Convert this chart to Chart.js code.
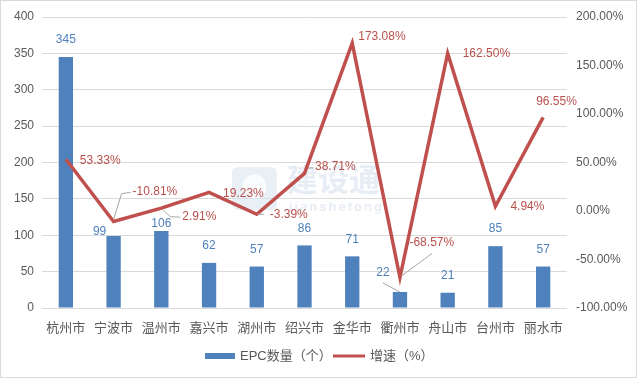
<!DOCTYPE html>
<html>
<head>
<meta charset="utf-8">
<script src="https://cdn.jsdelivr.net/npm/chart.js@4.4.1/dist/chart.umd.min.js"></script>
<style>
  html, body { margin: 0; padding: 0; background: #ffffff; }
  #wrap { width: 640px; height: 381px; position: relative; }
</style>
</head>
<body>
<div id="wrap"><canvas id="c"></canvas></div>
<script>
// ---- data ----
const categories = ['杭州市', '宁波市', '温州市', '嘉兴市', '湖州市', '绍兴市', '金华市', '衢州市', '舟山市', '台州市', '丽水市'];
const epcCounts = [345, 99, 106, 62, 57, 86, 71, 22, 21, 85, 57];
const growthRates = [53.33, -10.81, 2.91, 19.23, -3.39, 38.71, 173.08, -68.57, 162.50, 4.94, 96.55];
const seriesNames = ['EPC数量（个）', '增速（%）'];
const leftAxisRange = { min: 0, max: 400, step: 50 };
const rightAxisRange = { min: -100, max: 200, step: 50 };
const watermarkText = ['建设通', 'jianshetong'];

// ---- label placement (relative offsets to library-computed marks) ----
const barLabelOffsets = [
  { dx: 0, dy: -17 }, { dx: -14, dy: -4 }, { dx: 0, dy: -7.5 }, { dx: 0, dy: -17 },
  { dx: 0, dy: -17 }, { dx: 0, dy: -17 }, { dx: 0, dy: -17 },
  { dx: -17, dy: -19, leader: [[-17, -9], [0, 0]] },
  { dx: 0, dy: -17 }, { dx: 0, dy: -17 }, { dx: 0, dy: -17 }
];
const lineLabelOffsets = [
  { dx: 14, dy: 1 },
  { dx: 19, dy: -29.5, leader: [[0, -2], [8, -28], [17, -29]] },
  { dx: 21, dy: 9, leader: [[2, 2], [9, 8.5], [19, 9]] },
  { dx: 14, dy: 1 },
  { dx: 13, dy: 0, leader: [[1, 0], [7, 0]] },
  { dx: 10.5, dy: -6.5, leader: [[3.5, -5.5], [8.5, -5.5]] },
  { dx: 6, dy: -6 },
  { dx: 9.5, dy: -35, leader: [[1.5, -1.5], [32, -24]] },
  { dx: 15, dy: 0 },
  { dx: 15, dy: 0.5 },
  { dx: -7, dy: -16 }
];

const BAR_COLOR = '#4F81BD';
const LINE_COLOR = '#C0504D';
const BAR_LABEL_COLOR = '#4F81BD';
const LINE_LABEL_COLOR = '#B9504C';
const AXIS_TEXT = '#595959';
const GRID = '#D9D9D9';
const FONT = '"Liberation Sans", "Noto Sans CJK SC", sans-serif';

const framePlugin = {
  id: 'frame',
  beforeDraw(chart) {
    const ctx = chart.ctx;
    ctx.save();
    ctx.fillStyle = '#ffffff';
    ctx.fillRect(0, 0, chart.width, chart.height);
    ctx.strokeStyle = '#D9D9D9';
    ctx.lineWidth = 1;
    ctx.strokeRect(0.5, 0.5, 636, 377);
    ctx.restore();
  },
  beforeDatasetsDraw(chart) {
    // faint watermark
    const ctx = chart.ctx;
    const xs = chart.scales.x;
    const cx = (xs.getPixelForValue(3) + xs.getPixelForValue(4)) / 2;
    ctx.save();
    ctx.fillStyle = 'rgba(214,225,236,0.55)';
    const lx = cx - 1, ly = 167, w = 45, h = 43, r = 6;
    ctx.beginPath();
    ctx.moveTo(lx + r, ly);
    ctx.arcTo(lx + w, ly, lx + w, ly + h, r);
    ctx.arcTo(lx + w, ly + h, lx, ly + h, r);
    ctx.arcTo(lx, ly + h, lx, ly, r);
    ctx.arcTo(lx, ly, lx + w, ly, r);
    ctx.closePath();
    ctx.fill();
    ctx.fillStyle = 'rgba(255,255,255,0.75)';
    ctx.beginPath();
    ctx.arc(lx + w / 2, ly + h / 2 - 2, 12, 0, Math.PI * 2);
    ctx.fill();
    ctx.fillStyle = 'rgba(214,225,236,0.6)';
    ctx.font = 'bold 31px "Noto Sans CJK SC", sans-serif';
    ctx.textAlign = 'left';
    ctx.textBaseline = 'middle';
    ctx.fillText(watermarkText[0], lx + 55, ly + 12);
    ctx.font = 'bold 13px "Liberation Sans", sans-serif';
    if (ctx.letterSpacing !== undefined) ctx.letterSpacing = '2px';
    ctx.fillText(watermarkText[1], lx + 57, ly + 40);
    ctx.restore();
  },
  afterDatasetsDraw(chart) {
    const ctx = chart.ctx;
    const barMeta = chart.getDatasetMeta(0);
    const lineMeta = chart.getDatasetMeta(1);
    ctx.save();
    ctx.font = '12px ' + FONT;
    ctx.textBaseline = 'middle';
    ctx.lineWidth = 1;
    ctx.strokeStyle = '#A6A6A6';
    barMeta.data.forEach((el, i) => {
      const o = barLabelOffsets[i];
      if (o.leader) {
        ctx.beginPath();
        o.leader.forEach((p, k) => {
          const px = el.x + p[0], py = el.y + p[1];
          if (k === 0) ctx.moveTo(px, py); else ctx.lineTo(px, py);
        });
        ctx.stroke();
      }
      ctx.fillStyle = BAR_LABEL_COLOR;
      ctx.textAlign = 'center';
      ctx.fillText(String(epcCounts[i]), el.x + o.dx, el.y + o.dy);
    });
    lineMeta.data.forEach((el, i) => {
      const o = lineLabelOffsets[i];
      if (o.leader) {
        ctx.beginPath();
        o.leader.forEach((p, k) => {
          const px = el.x + p[0], py = el.y + p[1];
          if (k === 0) ctx.moveTo(px, py); else ctx.lineTo(px, py);
        });
        ctx.stroke();
      }
      ctx.fillStyle = LINE_LABEL_COLOR;
      ctx.textAlign = 'left';
      ctx.fillText(growthRates[i].toFixed(2) + '%', el.x + o.dx, el.y + o.dy);
    });
    ctx.restore();
  },
  afterDraw(chart) {
    // legend
    const ctx = chart.ctx;
    ctx.save();
    const y = 356;
    ctx.fillStyle = BAR_COLOR;
    ctx.fillRect(205, y - 3, 30, 6);
    ctx.font = '13px ' + FONT;
    ctx.textBaseline = 'middle';
    ctx.textAlign = 'left';
    ctx.fillStyle = AXIS_TEXT;
    ctx.fillText(seriesNames[0], 240, y);
    ctx.strokeStyle = LINE_COLOR;
    ctx.lineWidth = 3;
    ctx.beginPath();
    ctx.moveTo(333, y);
    ctx.lineTo(365, y);
    ctx.stroke();
    ctx.fillStyle = AXIS_TEXT;
    ctx.fillText(seriesNames[1], 370, y);
    ctx.restore();
  }
};

new Chart(document.getElementById('c'), {
  data: {
    labels: categories,
    datasets: [
      {
        type: 'bar',
        label: seriesNames[0],
        data: epcCounts,
        backgroundColor: BAR_COLOR,
        barPercentage: 0.3,
        categoryPercentage: 1,
        yAxisID: 'y',
        order: 2
      },
      {
        type: 'line',
        label: seriesNames[1],
        data: growthRates,
        borderColor: LINE_COLOR,
        backgroundColor: LINE_COLOR,
        borderWidth: 3.5,
        pointRadius: 0,
        tension: 0,
        yAxisID: 'y1',
        order: 1
      }
    ]
  },
  options: {
    responsive: true,
    maintainAspectRatio: false,
    animation: false,
    devicePixelRatio: 1,
    layout: { padding: { top: 17, bottom: 43, left: 0, right: 0 } },
    plugins: { legend: { display: false }, tooltip: { enabled: false } },
    scales: {
      x: {
        grid: { display: false },
        border: { display: false },
        ticks: { color: AXIS_TEXT, font: { family: FONT, size: 13 }, padding: 5, maxRotation: 0 },
        afterFit(s) { s.height = 30; }
      },
      y: {
        position: 'left',
        min: leftAxisRange.min, max: leftAxisRange.max,
        ticks: { stepSize: leftAxisRange.step, color: AXIS_TEXT, font: { family: FONT, size: 12 }, padding: 8 },
        grid: { color: GRID, drawTicks: false },
        border: { display: false },
        afterFit(s) { s.width = 42; }
      },
      y1: {
        position: 'right',
        min: rightAxisRange.min, max: rightAxisRange.max,
        ticks: {
          stepSize: rightAxisRange.step, color: AXIS_TEXT, font: { family: FONT, size: 12 }, padding: 9,
          callback: v => Number(v).toFixed(2) + '%'
        },
        grid: { display: false, drawTicks: false },
        border: { display: false },
        afterFit(s) { s.width = 73; }
      }
    }
  },
  plugins: [framePlugin]
});
</script>
</body>
</html>
